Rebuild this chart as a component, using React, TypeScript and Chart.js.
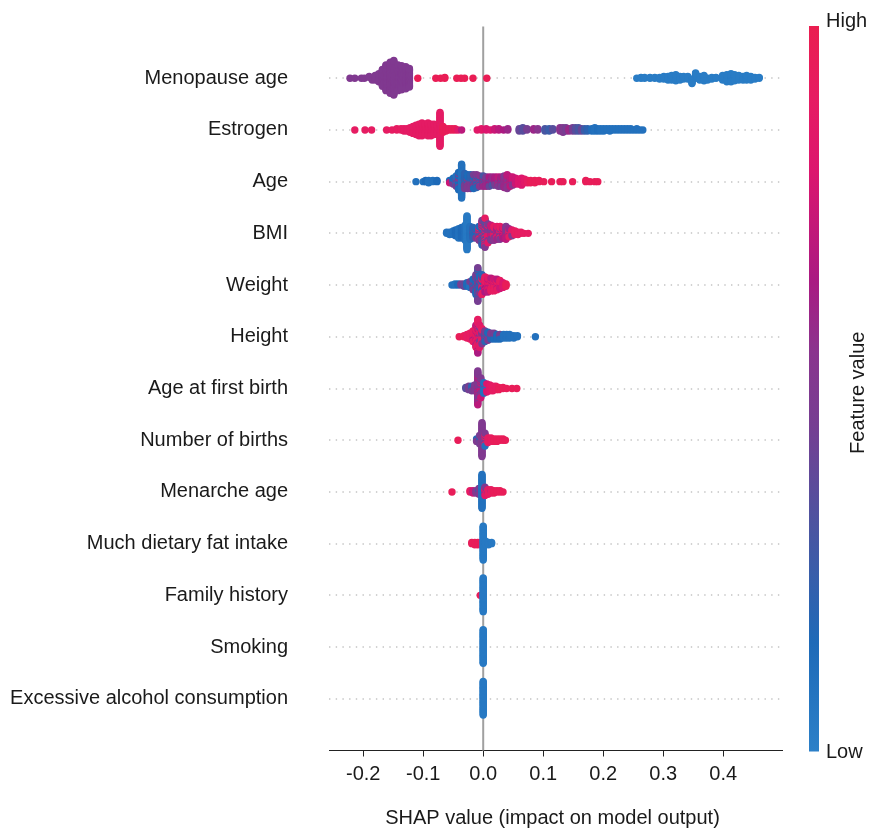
import React, { useEffect, useRef } from 'react';
import { Chart, registerables } from 'chart.js';

Chart.register(...registerables);

// [SHAP value, feature value (0 = low, 1 = high), number of samples]
type G = [number, number, number];

const featureNames = [
  'Menopause age',
  'Estrogen',
  'Age',
  'BMI',
  'Weight',
  'Height',
  'Age at first birth',
  'Number of births',
  'Menarche age',
  'Much dietary fat intake',
  'Family history',
  'Smoking',
  'Excessive alcohol consumption',
];

const xTickValues = [-0.2, -0.1, 0.0, 0.1, 0.2, 0.3, 0.4];
const xAxisTitle = 'SHAP value (impact on model output)';
const colorbarHigh = 'High';
const colorbarLow = 'Low';
const colorbarTitle = 'Feature value';

const menopauseAge: G[] = [
  [-0.222, 0.5, 1], [-0.214, 0.5, 1], [-0.203, 0.5, 1], [-0.198, 0.5, 1], [-0.19, 0.5, 2], [-0.185, 0.5, 3],
  [-0.18, 0.5, 6], [-0.174, 0.5, 10], [-0.168, 0.5, 20], [-0.162, 0.5, 30], [-0.155, 0.5, 36], [-0.149, 0.5, 40],
  [-0.142, 0.5, 30], [-0.136, 0.5, 28], [-0.129, 0.5, 26], [-0.123, 0.5, 22],
  [-0.109, 0.97, 1], [-0.079, 0.97, 1], [-0.071, 0.97, 1], [-0.064, 0.97, 2], [-0.044, 0.97, 1], [-0.037, 0.97, 1],
  [-0.031, 0.97, 1], [-0.017, 0.97, 1], [0.006, 0.97, 1],
  [0.256, 0.03, 1], [0.263, 0.03, 2], [0.269, 0.03, 2], [0.278, 0.03, 2], [0.286, 0.03, 2], [0.294, 0.03, 3],
  [0.301, 0.03, 4], [0.308, 0.03, 5], [0.314, 0.03, 6], [0.321, 0.03, 8], [0.328, 0.03, 5], [0.334, 0.03, 4],
  [0.341, 0.03, 4], [0.348, 0.03, 6], [0.354, 0.03, 7], [0.361, 0.03, 5], [0.368, 0.03, 4], [0.374, 0.03, 3],
  [0.381, 0.03, 3], [0.388, 0.03, 2], [0.399, 0.03, 6], [0.406, 0.03, 9], [0.413, 0.03, 10], [0.419, 0.03, 8],
  [0.426, 0.03, 6], [0.433, 0.03, 5], [0.439, 0.03, 6], [0.446, 0.03, 5], [0.453, 0.03, 3], [0.46, 0.03, 2],
];

const estrogen: G[] = [
  [-0.214, 0.9, 1], [-0.197, 0.9, 1], [-0.186, 0.9, 1], [-0.161, 0.9, 1], [-0.152, 0.9, 1], [-0.144, 0.9, 2],
  [-0.137, 0.9, 2], [-0.132, 0.88, 3], [-0.127, 0.88, 3], [-0.122, 0.88, 5], [-0.117, 0.88, 7], [-0.112, 0.88, 9],
  [-0.107, 0.88, 11], [-0.102, 0.88, 12], [-0.097, 0.88, 10], [-0.092, 0.88, 12], [-0.087, 0.88, 11],
  [-0.082, 0.88, 10], [-0.077, 0.88, 9], [-0.072, 0.88, 30],
  [-0.067, 0.95, 6], [-0.062, 0.95, 3], [-0.057, 0.95, 2], [-0.052, 0.95, 2], [-0.047, 0.95, 2],
  [-0.042, 0.85, 1], [-0.036, 0.7, 1],
  [-0.01, 0.85, 1], [-0.003, 0.85, 2], [0.005, 0.8, 2], [0.012, 0.8, 1], [0.019, 0.75, 2], [0.026, 0.7, 2],
  [0.034, 0.65, 1], [0.041, 0.6, 2],
  [0.06, 0.4, 3], [0.066, 0.35, 4], [0.073, 0.45, 2],
  [0.084, 0.6, 2], [0.091, 0.55, 2],
  [0.103, 0.3, 3], [0.11, 0.25, 3], [0.116, 0.35, 2],
  [0.128, 0.55, 4], [0.133, 0.5, 5], [0.138, 0.45, 4], [0.143, 0.6, 3],
  [0.149, 0.45, 4], [0.154, 0.35, 4], [0.159, 0.3, 4], [0.164, 0.4, 3], [0.169, 0.25, 3], [0.174, 0.2, 3],
  [0.181, 0.12, 3], [0.186, 0.1, 4], [0.191, 0.12, 3], [0.196, 0.1, 3], [0.201, 0.1, 3], [0.206, 0.1, 2],
  [0.211, 0.1, 3], [0.216, 0.1, 2], [0.221, 0.1, 2], [0.226, 0.1, 2], [0.231, 0.1, 2], [0.236, 0.1, 2],
  [0.241, 0.1, 2], [0.246, 0.1, 2], [0.251, 0.1, 1], [0.256, 0.1, 2], [0.261, 0.1, 1], [0.266, 0.1, 1],
];

const age: G[] = [
  [-0.112, 0.1, 1], [-0.1, 0.1, 1], [-0.096, 0.15, 2], [-0.091, 0.1, 3], [-0.084, 0.1, 2], [-0.077, 0.15, 2],
  [-0.056, 0.15, 2], [-0.056, 0.75, 1], [-0.05, 0.15, 4], [-0.05, 0.45, 2], [-0.045, 0.1, 6], [-0.045, 0.45, 4],
  [-0.041, 0.15, 10], [-0.041, 0.5, 6], [-0.036, 0.1, 30],
  [-0.031, 0.2, 8], [-0.031, 0.45, 6], [-0.026, 0.15, 6], [-0.026, 0.5, 7], [-0.021, 0.2, 6], [-0.021, 0.5, 7],
  [-0.016, 0.45, 8], [-0.016, 0.15, 5], [-0.011, 0.5, 7], [-0.011, 0.2, 5], [-0.006, 0.55, 6], [-0.006, 0.15, 4],
  [0.0, 0.6, 6], [0.0, 0.3, 4], [0.005, 0.6, 5], [0.005, 0.45, 4], [0.01, 0.65, 5], [0.01, 0.4, 4],
  [0.015, 0.6, 5], [0.015, 0.3, 3], [0.02, 0.65, 5], [0.02, 0.45, 3], [0.025, 0.7, 5], [0.025, 0.5, 4],
  [0.03, 0.65, 5], [0.03, 0.45, 4], [0.035, 0.6, 6], [0.035, 0.5, 5], [0.04, 0.55, 8], [0.04, 0.7, 5],
  [0.045, 0.7, 6], [0.045, 0.5, 3], [0.049, 0.75, 5], [0.049, 0.55, 3], [0.054, 0.75, 6], [0.059, 0.8, 5],
  [0.064, 0.8, 7], [0.069, 0.85, 4], [0.074, 0.9, 3], [0.079, 0.95, 3], [0.086, 0.95, 3], [0.093, 0.95, 2],
  [0.101, 0.95, 1], [0.114, 0.95, 1], [0.128, 0.95, 1], [0.133, 0.95, 1], [0.149, 0.95, 1], [0.171, 0.95, 2],
  [0.178, 0.95, 1], [0.186, 0.95, 1], [0.191, 0.95, 1],
];

const bmi: G[] = [
  [-0.061, 0.1, 2], [-0.056, 0.1, 3], [-0.05, 0.1, 4], [-0.046, 0.15, 6], [-0.041, 0.1, 9], [-0.036, 0.15, 10],
  [-0.03, 0.1, 14], [-0.027, 0.05, 30], [-0.022, 0.1, 12], [-0.017, 0.2, 9], [-0.017, 0.45, 1],
  [-0.012, 0.15, 7], [-0.012, 0.5, 2], [-0.007, 0.5, 6], [-0.007, 0.9, 4], [-0.007, 0.15, 3],
  [-0.002, 0.45, 10], [-0.002, 0.85, 6], [-0.002, 0.2, 6], [0.003, 0.5, 12], [0.003, 0.9, 8], [0.003, 0.3, 6],
  [0.008, 0.5, 10], [0.008, 0.85, 7], [0.013, 0.45, 8], [0.013, 0.75, 6], [0.018, 0.55, 7], [0.018, 0.9, 6],
  [0.023, 0.6, 7], [0.023, 0.85, 5], [0.028, 0.5, 6], [0.028, 0.9, 6], [0.033, 0.65, 5], [0.033, 0.85, 5],
  [0.038, 0.7, 6], [0.038, 0.5, 6], [0.043, 0.9, 5], [0.043, 0.6, 3], [0.048, 0.85, 4], [0.048, 0.5, 2],
  [0.053, 0.9, 4], [0.058, 0.9, 3], [0.063, 0.9, 2], [0.068, 0.9, 1], [0.075, 0.9, 1],
];

const weight: G[] = [
  [-0.052, 0.1, 1], [-0.047, 0.1, 2], [-0.042, 0.15, 2], [-0.037, 0.45, 2], [-0.032, 0.4, 2], [-0.032, 0.1, 1],
  [-0.027, 0.15, 4], [-0.022, 0.1, 4], [-0.022, 0.45, 2], [-0.017, 0.45, 6], [-0.017, 0.15, 4],
  [-0.012, 0.15, 10], [-0.012, 0.45, 8], [-0.009, 0.45, 20], [-0.009, 0.2, 10], [-0.006, 0.15, 10],
  [-0.006, 0.5, 6], [-0.002, 0.9, 8], [-0.002, 0.2, 6], [-0.002, 0.45, 4], [0.003, 0.9, 10], [0.003, 0.65, 4],
  [0.008, 0.85, 8], [0.008, 0.7, 5], [0.013, 0.9, 8], [0.013, 0.7, 4], [0.018, 0.9, 7], [0.018, 0.75, 4],
  [0.023, 0.9, 6], [0.023, 0.7, 4], [0.028, 0.9, 5], [0.028, 0.75, 3], [0.033, 0.8, 5], [0.038, 0.95, 3],
];

const height: G[] = [
  [-0.04, 0.95, 1], [-0.032, 0.95, 2], [-0.027, 0.9, 4], [-0.022, 0.9, 6], [-0.017, 0.9, 8], [-0.017, 0.65, 2],
  [-0.012, 0.9, 14], [-0.012, 0.7, 6], [-0.009, 0.9, 22], [-0.009, 0.65, 8], [-0.006, 0.85, 12], [-0.006, 0.5, 8],
  [-0.002, 0.9, 8], [-0.002, 0.5, 6], [0.003, 0.45, 6], [0.003, 0.2, 4], [0.008, 0.5, 4], [0.008, 0.15, 4],
  [0.013, 0.2, 4], [0.013, 0.5, 2], [0.018, 0.45, 4], [0.018, 0.15, 2], [0.023, 0.15, 5], [0.028, 0.45, 3],
  [0.028, 0.15, 2], [0.034, 0.1, 4], [0.039, 0.1, 4], [0.044, 0.1, 4], [0.051, 0.1, 3], [0.057, 0.1, 2],
  [0.087, 0.1, 1],
];

const ageFirstBirth: G[] = [
  [-0.029, 0.35, 2], [-0.024, 0.45, 4], [-0.019, 0.2, 3], [-0.019, 0.45, 2], [-0.014, 0.5, 6],
  [-0.009, 0.5, 22], [-0.009, 0.7, 8], [-0.004, 0.5, 12], [-0.004, 0.75, 6], [0.001, 0.1, 8], [0.001, 0.5, 2],
  [0.006, 0.1, 4], [0.006, 0.8, 4], [0.011, 0.85, 6], [0.016, 0.9, 5], [0.021, 0.9, 4], [0.026, 0.95, 3],
  [0.033, 0.95, 2], [0.039, 0.95, 1], [0.048, 0.95, 1], [0.056, 0.95, 1],
];

const numberOfBirths: G[] = [
  [-0.042, 0.95, 1], [-0.011, 0.2, 2], [-0.011, 0.5, 1], [-0.006, 0.45, 6], [-0.006, 0.15, 2],
  [-0.002, 0.5, 30], [0.003, 0.5, 6], [0.003, 0.9, 4], [0.003, 0.1, 2], [0.008, 0.9, 4], [0.008, 0.15, 1],
  [0.013, 0.9, 4], [0.018, 0.95, 3], [0.023, 0.95, 3], [0.028, 0.95, 2], [0.033, 0.95, 2], [0.037, 0.95, 1],
];

const menarcheAge: G[] = [
  [-0.052, 0.95, 1], [-0.022, 0.9, 2], [-0.017, 0.75, 2], [-0.017, 0.5, 1], [-0.012, 0.5, 3], [-0.007, 0.5, 4],
  [-0.007, 0.2, 2], [-0.002, 0.1, 30], [0.003, 0.85, 5], [0.003, 0.5, 3], [0.008, 0.9, 4], [0.008, 0.5, 1],
  [0.013, 0.9, 3], [0.013, 0.55, 1], [0.018, 0.95, 3], [0.023, 0.95, 2], [0.028, 0.95, 2], [0.033, 0.95, 1],
];

const dietaryFat: G[] = [
  [-0.019, 0.95, 2], [-0.014, 0.95, 3], [-0.009, 0.95, 3], [-0.004, 0.95, 2],
  [0.0, 0.05, 30], [0.004, 0.05, 4], [0.009, 0.05, 3], [0.014, 0.05, 2],
];

const familyHistory: G[] = [[-0.005, 0.95, 1], [0.0, 0.05, 30]];
const smoking: G[] = [[0.0, 0.05, 30]];
const alcohol: G[] = [[0.0, 0.05, 30]];

const rowsData: G[][] = [
  menopauseAge, estrogen, age, bmi, weight, height, ageFirstBirth,
  numberOfBirths, menarcheAge, dietaryFat, familyHistory, smoking, alcohol,
];

// colour map (feature value -> rgb)
const cmapStops: [number, number, number, number][] = [
  [0.0, 44, 128, 200],
  [0.15, 30, 106, 184],
  [0.3, 72, 86, 162],
  [0.45, 118, 62, 146],
  [0.55, 138, 52, 142],
  [0.65, 170, 26, 130],
  [0.8, 220, 22, 110],
  [0.9, 230, 28, 98],
  [1.0, 234, 30, 80],
];

function cmap(v: number): string {
  for (let i = 1; i < cmapStops.length; i++) {
    const a = cmapStops[i - 1];
    const b = cmapStops[i];
    if (v <= b[0]) {
      const t = (v - a[0]) / (b[0] - a[0]);
      const c = [1, 2, 3].map((k) => Math.round(a[k] + (b[k] - a[k]) * t));
      return `rgb(${c[0]},${c[1]},${c[2]})`;
    }
  }
  const l = cmapStops[cmapStops.length - 1];
  return `rgb(${l[1]},${l[2]},${l[3]})`;
}

// SHAP-style beeswarm layout (binning + layered offsets)
function swarm(groups: G[], row: number) {
  const pts: { x: number; v: number; k: number; q: number; y: number }[] = [];
  groups.forEach(([s, v, n], gi) => {
    for (let j = 0; j < n; j++) {
      pts.push({ x: s, v, k: (j * 0.6180339 + gi * 0.4142136) % 1, q: 0, y: 0 });
    }
  });
  const xs = pts.map((p) => p.x);
  const mn = Math.min(...xs);
  const mx = Math.max(...xs);
  pts.forEach((p) => (p.q = Math.round((100 * (p.x - mn)) / (mx - mn + 1e-8))));
  const order = [...pts].sort((a, b) => a.q - b.q || a.k - b.k);
  let layer = 0;
  let last = -1;
  for (const p of order) {
    if (p.q !== last) layer = 0;
    p.y = Math.ceil(layer / 2) * ((layer % 2) * 2 - 1);
    layer++;
    last = p.q;
  }
  const m = Math.max(...pts.map((p) => p.y + 1));
  const sc = (0.9 * 0.4) / m;
  return order.map((p) => ({ x: p.x, y: row - p.y * sc, v: p.v }));
}

const FONT = '"Liberation Sans", Arial, Helvetica, sans-serif';
const TEXT = '#1a1a1a';

export default function App() {
  const ref = useRef<HTMLCanvasElement>(null);

  useEffect(() => {
    if (!ref.current) return;
    const pts = rowsData.flatMap((g, i) => swarm(g, i));

    const decor = {
      id: 'decor',
      beforeDatasetsDraw(chart: any) {
        const { ctx, chartArea: ca, scales } = chart;
        const x = scales.x;
        const y = scales.y;
        ctx.save();
        ctx.strokeStyle = '#c4c4c4';
        ctx.lineWidth = 1.4;
        ctx.setLineDash([1.4, 5.3]);
        featureNames.forEach((_, i) => {
          const py = Math.round(y.getPixelForValue(i));
          ctx.beginPath();
          ctx.moveTo(ca.left, py);
          ctx.lineTo(ca.right, py);
          ctx.stroke();
        });
        ctx.setLineDash([]);
        ctx.strokeStyle = '#a0a0a0';
        ctx.lineWidth = 2;
        const zx = x.getPixelForValue(0);
        ctx.beginPath();
        ctx.moveTo(zx, ca.top);
        ctx.lineTo(zx, ca.bottom);
        ctx.stroke();
        ctx.restore();
      },
      afterDraw(chart: any) {
        const { ctx, chartArea: ca } = chart;
        ctx.save();
        // colour bar
        const cbX = ca.right + 27;
        const cbW = 10;
        const cbTop = ca.top - 0.5;
        const cbBot = ca.bottom + 1;
        const grad = ctx.createLinearGradient(0, cbBot, 0, cbTop);
        cmapStops.forEach((s) => grad.addColorStop(s[0], `rgb(${s[1]},${s[2]},${s[3]})`));
        ctx.fillStyle = grad;
        ctx.fillRect(cbX, cbTop, cbW, cbBot - cbTop);
        ctx.fillStyle = TEXT;
        ctx.font = `20px ${FONT}`;
        ctx.textAlign = 'left';
        ctx.textBaseline = 'middle';
        ctx.fillText(colorbarHigh, cbX + cbW + 7, cbTop - 5);
        ctx.fillText(colorbarLow, cbX + cbW + 7, cbBot + 1);
        ctx.save();
        ctx.translate(cbX + cbW + 39, (cbTop + cbBot) / 2 + 4);
        ctx.rotate(-Math.PI / 2);
        ctx.textAlign = 'center';
        ctx.fillText(colorbarTitle, 0, 0);
        ctx.restore();
        // x axis title
        ctx.textAlign = 'center';
        ctx.fillText(xAxisTitle, (ca.left + ca.right) / 2 - 3, 818);
        ctx.restore();
      },
    };

    const chart = new Chart(ref.current, {
      type: 'scatter',
      data: {
        datasets: [
          {
            data: pts.map((p) => ({ x: p.x, y: p.y })),
            backgroundColor: pts.map((p) => cmap(p.v)),
            borderWidth: 0,
            pointRadius: 3.7,
            pointHoverRadius: 3.7,
          },
        ],
      },
      options: {
        animation: false,
        responsive: false,
        maintainAspectRatio: false,
        events: [],
        layout: { autoPadding: false, padding: { left: 0, right: 88, top: 26.5, bottom: 0 } },
        plugins: { legend: { display: false }, tooltip: { enabled: false } },
        scales: {
          x: {
            type: 'linear',
            min: -0.257,
            max: 0.498,
            afterBuildTicks: (s: any) => {
              s.ticks = xTickValues.map((v) => ({ value: v }));
            },
            afterFit: (s: any) => {
              s.height = 77.5;
              s.paddingLeft = 0;
              s.paddingRight = 0;
            },
            ticks: {
              callback: (v: any) => Number(v).toFixed(1),
              font: { size: 20, family: FONT },
              color: TEXT,
              padding: 6,
              autoSkip: false,
              maxRotation: 0,
            },
            grid: { drawOnChartArea: false, drawTicks: true, tickLength: 6, color: '#222', lineWidth: 1 },
            border: { display: true, color: '#222', width: 1 },
          },
          y: {
            type: 'linear',
            min: -1,
            max: 13,
            reverse: true,
            afterBuildTicks: (s: any) => {
              s.ticks = featureNames.map((_, i) => ({ value: i }));
            },
            afterFit: (s: any) => {
              s.width = 329;
              s.paddingTop = 0;
              s.paddingBottom = 0;
            },
            ticks: {
              callback: (v: any) => featureNames[Number(v)] ?? '',
              font: { size: 20, family: FONT },
              color: TEXT,
              padding: 41,
              autoSkip: false,
            },
            grid: { display: false, drawTicks: false },
            border: { display: false },
          },
        },
      },
      plugins: [decor],
    });
    return () => chart.destroy();
  }, []);

  return (
    <div style={{ position: 'absolute', left: 0, top: 0, width: 870, height: 828, background: '#fff' }}>
      <canvas ref={ref} width={870} height={828} style={{ display: 'block', width: 870, height: 828 }} />
    </div>
  );
}
